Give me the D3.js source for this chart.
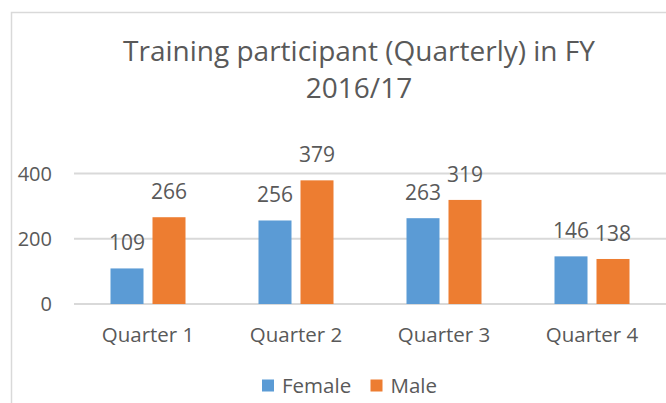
<!DOCTYPE html>
<html>
<head>
<meta charset="utf-8">
<script src="https://d3js.org/d3.v7.min.js"></script>
<style>
  body { margin: 0; background: #fff; }
  text { font-family: "Open Sans", "Noto Sans", sans-serif; fill: #595959; }
</style>
</head>
<body>
<div id="chart"></div>
<script>
// data
var quarters = ["Quarter 1", "Quarter 2", "Quarter 3", "Quarter 4"];
var female = [109, 256, 263, 146];
var male = [266, 379, 319, 138];
var yTicks = [0, 200, 400];
var seriesNames = ["Female", "Male"];
var seriesColors = ["#5B9BD5", "#ED7D31"];

var width = 666, height = 403;

var svg = d3.select("#chart").append("svg")
    .attr("width", width)
    .attr("height", height);

// chart frame (cropped on right/bottom)
svg.append("path")
    .attr("d", "M11.5,403 V12.5 H666")
    .attr("fill", "none")
    .attr("stroke", "#D9D9D9")
    .attr("stroke-width", 1.5);

// title
var title = svg.append("text")
    .attr("text-anchor", "middle")
    .style("font-size", "28px");
title.append("tspan").attr("x", 359).attr("y", 61).text("Training participant (Quarterly) in FY");
title.append("tspan").attr("x", 359).attr("y", 98).text("2016/17");

var x = d3.scaleBand()
    .domain(quarters)
    .range([74, 666]);

var y = d3.scaleLinear()
    .domain([0, 400])
    .range([304, 173.5]);

var barW = 33, gap = 9;

// gridlines
svg.append("g").selectAll("line")
    .data(yTicks)
    .enter().append("line")
    .attr("x1", 74).attr("x2", 666)
    .attr("y1", function (d) { return y(d); })
    .attr("y2", function (d) { return y(d); })
    .attr("stroke", "#D9D9D9")
    .attr("stroke-width", 2);

// y tick labels
svg.append("g").selectAll("text")
    .data(yTicks)
    .enter().append("text")
    .attr("x", 52)
    .attr("y", function (d) { return y(d) + 7; })
    .attr("text-anchor", "end")
    .style("font-size", "20px")
    .text(function (d) { return d; });

// x category labels
svg.append("g").selectAll("text")
    .data(quarters)
    .enter().append("text")
    .attr("x", function (d) { return x(d) + x.bandwidth() / 2; })
    .attr("y", 342)
    .attr("text-anchor", "middle")
    .style("font-size", "20.5px")
    .text(function (d) { return d; });

var series = [female, male];
series.forEach(function (vals, si) {
    var offset = si === 0 ? -gap / 2 - barW : gap / 2;
    var g = svg.append("g");
    g.selectAll("rect")
        .data(vals)
        .enter().append("rect")
        .attr("x", function (d, i) { return x(quarters[i]) + x.bandwidth() / 2 + offset; })
        .attr("y", function (d) { return y(d); })
        .attr("width", barW)
        .attr("height", function (d) { return y(0) - y(d); })
        .attr("fill", seriesColors[si]);
    g.selectAll("text")
        .data(vals)
        .enter().append("text")
        .attr("x", function (d, i) { return x(quarters[i]) + x.bandwidth() / 2 + offset + barW / 2; })
        .attr("y", function (d) { return y(d) - 18; })
        .attr("text-anchor", "middle")
        .style("font-size", "21px")
        .text(function (d) { return d; });
});

// legend
var legend = svg.append("g");
var legendX = [262, 370.5];
seriesNames.forEach(function (name, i) {
    legend.append("rect")
        .attr("x", legendX[i]).attr("y", 379.5)
        .attr("width", 12).attr("height", 12)
        .attr("fill", seriesColors[i]);
    legend.append("text")
        .attr("x", legendX[i] + 20).attr("y", 393)
        .style("font-size", "20.5px")
        .text(name);
});
</script>
</body>
</html>
